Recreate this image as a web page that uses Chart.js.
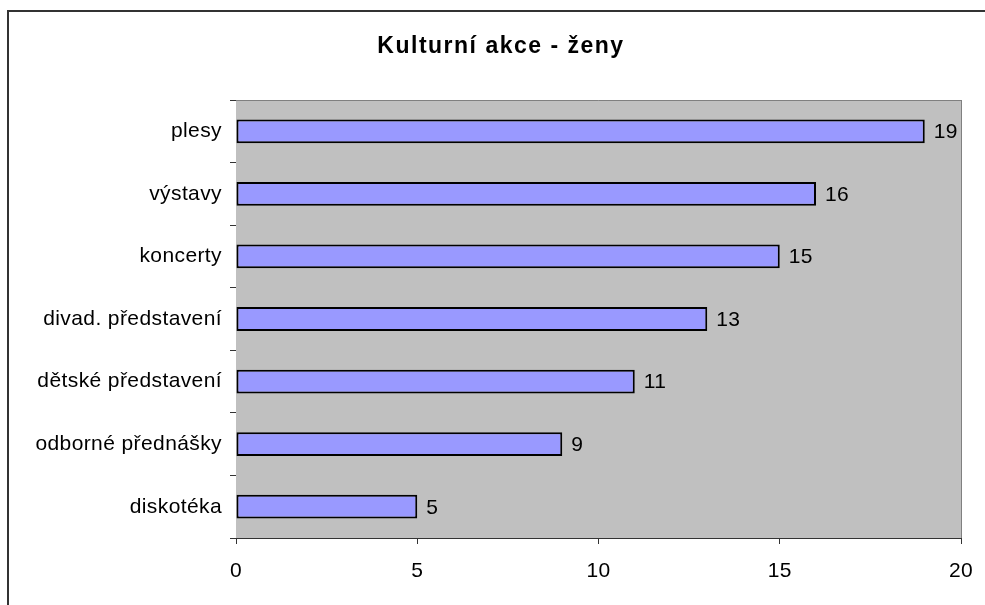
<!DOCTYPE html>
<html lang="cs">
<head>
    <meta charset="UTF-8">
    <title>Kulturní akce - ženy</title>
    <style>
        body {
            margin: 0;
            background: #fff;
        }
        #chart-container {
            width: 985px;
            height: 605px;
            position: relative;
        }
    </style>
    <script src="https://cdn.jsdelivr.net/npm/chart.js"></script>
</head>
<body>
    <div id="chart-container">
        <canvas id="graph"></canvas>
    </div>
    <script>
        // data
        const chartTitle = 'Kulturní akce - ženy';
        const categories = ['plesy', 'výstavy', 'koncerty', 'divad. představení', 'dětské představení', 'odborné přednášky', 'diskotéka'];
        const counts = [19, 16, 15, 13, 11, 9, 5];
        const xMin = 0;
        const xMax = 20;
        const xStep = 5;

        const FONT = "'Liberation Sans', Arial, sans-serif";

        // frame, title, gray plot area, top/right border and value labels
        const decorations = {
            id: 'decorations',
            beforeDraw(chart) {
                const ctx = chart.ctx;
                ctx.save();
                ctx.strokeStyle = '#333';
                ctx.lineWidth = 2;
                ctx.beginPath();
                ctx.moveTo(8, chart.height + 5);
                ctx.lineTo(8, 11);
                ctx.lineTo(chart.width + 5, 11);
                ctx.stroke();

                ctx.fillStyle = '#000';
                ctx.font = 'bold 23px ' + FONT;
                ctx.letterSpacing = '1.5px';
                ctx.textAlign = 'center';
                ctx.textBaseline = 'middle';
                ctx.fillText(chartTitle, 501, 47);
                ctx.restore();
                // slightly wider text for the axis labels, like the original
                ctx.letterSpacing = '0.4px';
            },
            afterDraw(chart) {
                // back to normal so the next layout pass measures plain text
                chart.ctx.letterSpacing = '0px';
            },
            beforeDatasetsDraw(chart) {
                const ctx = chart.ctx;
                const a = chart.chartArea;
                ctx.save();
                ctx.fillStyle = '#c0c0c0';
                ctx.fillRect(a.left, a.top, a.right - a.left, a.bottom - a.top);
                ctx.restore();
            },
            afterDatasetsDraw(chart) {
                const ctx = chart.ctx;
                const a = chart.chartArea;
                ctx.save();
                ctx.strokeStyle = '#808080';
                ctx.lineWidth = 1;
                ctx.beginPath();
                ctx.moveTo(a.left, a.top + 0.5);
                ctx.lineTo(a.right + 0.5, a.top + 0.5);
                ctx.lineTo(a.right + 0.5, a.bottom);
                ctx.stroke();

                ctx.fillStyle = '#000';
                ctx.font = '21px ' + FONT;
                ctx.textAlign = 'left';
                ctx.textBaseline = 'middle';
                const meta = chart.getDatasetMeta(0);
                meta.data.forEach((bar, i) => {
                    ctx.fillText(String(counts[i]), bar.x + 9, bar.y + 1);
                });
                ctx.restore();
            }
        };

        const ctx = document.getElementById('graph').getContext('2d');
        const chart = new Chart(ctx, {
            type: 'bar',
            data: {
                labels: categories,
                datasets: [{
                    data: counts,
                    backgroundColor: '#9999ff',
                    borderColor: '#000',
                    borderWidth: 2,
                    borderSkipped: false,
                    barPercentage: 0.38,
                    categoryPercentage: 1
                }]
            },
            options: {
                indexAxis: 'y',
                responsive: true,
                maintainAspectRatio: false,
                animation: false,
                layout: {
                    padding: { left: 0, right: 24, top: 100, bottom: 0 }
                },
                scales: {
                    x: {
                        min: xMin,
                        max: xMax,
                        ticks: {
                            stepSize: xStep,
                            color: '#000',
                            padding: 15,
                            font: { family: FONT, size: 21 }
                        },
                        grid: {
                            color: (c) => c.index === 4 ? '#808080' : '#4d4d4d',
                            tickColor: '#333',
                            tickLength: 6,
                            lineWidth: 1
                        },
                        border: { color: '#333', width: 1 },
                        afterFit(scale) {
                            scale.height = 67;
                            scale.paddingLeft = 0;
                            scale.paddingRight = 0;
                        }
                    },
                    y: {
                        ticks: {
                            color: '#000',
                            padding: 8,
                            font: { family: FONT, size: 21 }
                        },
                        grid: {
                            drawOnChartArea: false,
                            drawTicks: true,
                            tickLength: 6,
                            color: '#333'
                        },
                        border: { color: '#333', width: 1 },
                        afterFit(scale) { scale.width = 236; }
                    }
                },
                plugins: {
                    legend: { display: false },
                    tooltip: { enabled: false },
                    title: { display: false }
                }
            },
            plugins: [decorations]
        });
    </script>
</body>
</html>
